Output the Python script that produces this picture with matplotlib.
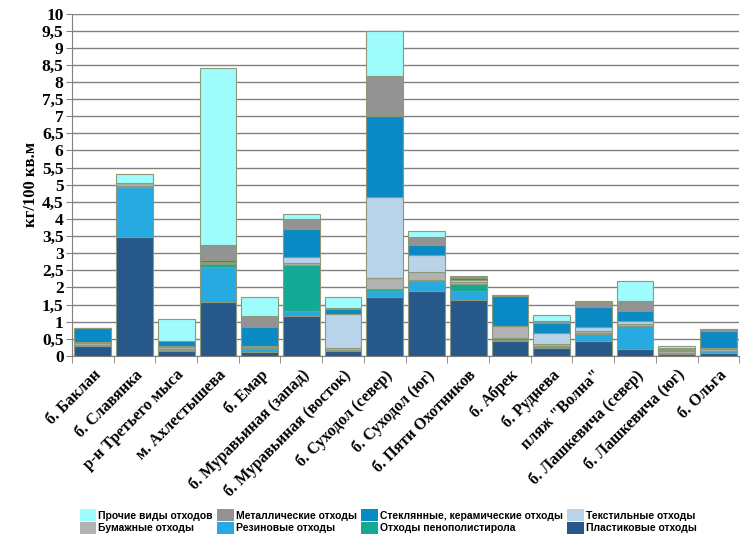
import numpy as np
import matplotlib
matplotlib.use('Agg')
import matplotlib.pyplot as plt
from matplotlib.ticker import FuncFormatter, MultipleLocator

# sites (x axis)
sites = ['б. Баклан', 'б. Славянка', 'р-н Третьего мыса', 'м. Ахлестышева', 'б. Емар',
         'б. Муравьиная (запад)', 'б. Муравьиная (восток)', 'б. Суходол (север)',
         'б. Суходол (юг)', 'б. Пяти Охотников', 'б. Абрек', 'б. Руднева',
         'пляж "Волна"', 'б. Лашкевича (север)', 'б. Лашкевича (юг)', 'б. Ольга']

# kg / 100 sq.m, bottom to top
plastic = [0.30, 3.48, 0.15, 1.56, 0.10, 1.15, 0.15, 1.73, 1.88, 1.62, 0.42, 0.24, 0.42, 0.19, 0.04, 0.08]
rubber  = [0.00, 1.45, 0.02, 1.03, 0.12, 0.16, 0.02, 0.17, 0.31, 0.28, 0.05, 0.02, 0.21, 0.67, 0.00, 0.06]
foam    = [0.02, 0.03, 0.02, 0.08, 0.04, 1.35, 0.00, 0.05, 0.02, 0.20, 0.05, 0.02, 0.03, 0.02, 0.03, 0.01]
paper   = [0.07, 0.08, 0.06, 0.05, 0.04, 0.06, 0.05, 0.32, 0.25, 0.06, 0.34, 0.08, 0.08, 0.05, 0.06, 0.04]
textile = [0.02, 0.00, 0.05, 0.02, 0.00, 0.16, 1.00, 2.36, 0.49, 0.06, 0.00, 0.32, 0.09, 0.10, 0.05, 0.03]
glass   = [0.39, 0.00, 0.12, 0.07, 0.54, 0.83, 0.16, 2.38, 0.29, 0.04, 0.89, 0.27, 0.61, 0.29, 0.00, 0.50]
metal   = [0.01, 0.02, 0.00, 0.43, 0.33, 0.28, 0.03, 1.16, 0.23, 0.04, 0.02, 0.08, 0.13, 0.29, 0.04, 0.06]
other   = [0.00, 0.24, 0.65, 5.16, 0.54, 0.15, 0.32, 1.32, 0.17, 0.04, 0.00, 0.15, 0.02, 0.58, 0.07, 0.00]

series = [
    ('Пластиковые отходы', plastic, '#26588a'),
    ('Резиновые отходы', rubber, '#27a9e1'),
    ('Отходы пенополистирола', foam, '#13a994'),
    ('Бумажные отходы', paper, '#b3b3b3'),
    ('Текстильные отходы', textile, '#b9d3e8'),
    ('Стеклянные, керамические отходы', glass, '#0a8ac5'),
    ('Металлические отходы', metal, '#939393'),
    ('Прочие виды отходов', other, '#9ffcfc'),
]

fig = plt.figure(figsize=(7.49, 5.40), dpi=100)
ax = fig.add_axes([0.096, 0.341, 0.891, 0.634])

x = np.arange(len(sites))
bottom = np.zeros(len(sites))
for name, vals, col in series:
    vals = np.array(vals)
    ax.bar(x, vals, 0.88, bottom=bottom, color=col, edgecolor='#8b9a7b',
           linewidth=0.8, zorder=3, label=name)
    bottom += vals

ax.set_xlim(-0.5, len(sites) - 0.5)
ax.set_ylim(0, 10)
ax.yaxis.set_major_locator(MultipleLocator(0.5))
ax.yaxis.set_major_formatter(FuncFormatter(lambda v, p: ('%g' % v).replace('.', ',')))
ax.grid(axis='y', color='#808080', linewidth=1, zorder=0)

ax.spines['top'].set_visible(False)
ax.spines['right'].set_visible(False)
ax.spines['left'].set_color('#808080')
ax.spines['bottom'].set_color('#808080')

serif = 'Liberation Serif'
ax.set_xticks(x)
ax.set_xticklabels(sites, rotation=45, ha='right', rotation_mode='anchor',
                   fontfamily=serif, fontweight='bold', fontsize=11.5)
ax.set_xticks(np.arange(-0.5, len(sites)), minor=True)
ax.tick_params(axis='x', which='major', length=0, pad=8)
ax.tick_params(axis='x', which='minor', length=5, color='#808080')
ax.tick_params(axis='y', length=4, color='#808080', pad=2)
for t in ax.get_yticklabels():
    t.set_fontfamily(serif)
    t.set_fontweight('bold')
    t.set_fontsize(12.5)
ax.set_ylabel('кг/100 кв.м', fontfamily=serif, fontweight='bold', fontsize=12, labelpad=2)

colors = dict((s[0], s[2]) for s in series)
order = ['Прочие виды отходов', 'Бумажные отходы', 'Металлические отходы', 'Резиновые отходы',
         'Стеклянные, керамические отходы', 'Отходы пенополистирола',
         'Текстильные отходы', 'Пластиковые отходы']
leg_handles = [plt.Rectangle((0, 0), 1, 1, facecolor=colors[n], edgecolor='none') for n in order]
fig.legend(leg_handles, order, ncol=4, loc='lower left', bbox_to_anchor=(0.098, 0.0),
           frameon=False, prop={'family': 'Liberation Sans', 'size': 7.5, 'weight': 'bold'},
           handlelength=1.6, handleheight=1.35, handletextpad=0.2, columnspacing=0.4,
           labelspacing=0.1, borderaxespad=0.2)

fig.savefig('out.png', dpi=100)
